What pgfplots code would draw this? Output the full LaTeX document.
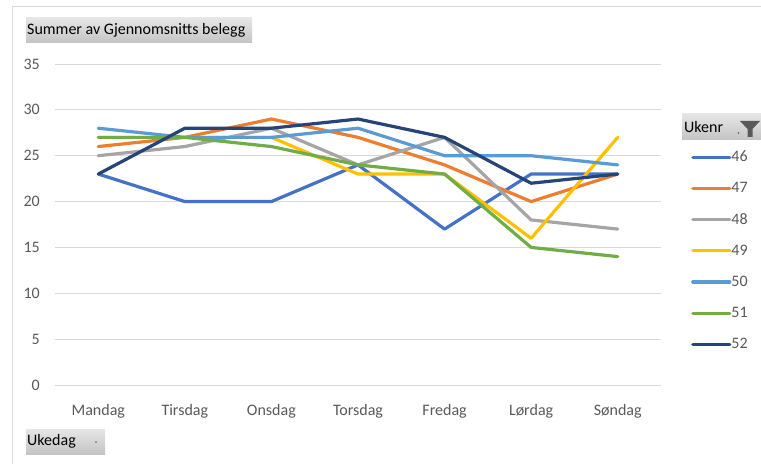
\documentclass[border=0pt]{standalone}
\usepackage{fontspec}
\setmainfont{Carlito}
\usepackage{pgfplots}
\pgfplotsset{compat=1.18}

\definecolor{c46}{HTML}{4472C4}
\definecolor{c47}{HTML}{ED7D31}
\definecolor{c48}{HTML}{A5A5A5}
\definecolor{c49}{HTML}{FFC000}
\definecolor{c50}{HTML}{5B9BD5}
\definecolor{c51}{HTML}{70AD47}
\definecolor{c52}{HTML}{264478}
\definecolor{gridc}{HTML}{D9D9D9}
\definecolor{txt}{HTML}{595959}
\definecolor{btntop}{HTML}{E6E6E6}
\definecolor{btnbot}{HTML}{C4C4C4}

\begin{document}
\begin{tikzpicture}[x=1pt,y=1pt,font=\fontsize{16}{19}\selectfont]
\path[use as bounding box] (0,0) rectangle (761,464);
% frame of the chart area
\draw[gridc,line width=1pt] (12.5,0) -- (12.5,457.5) -- (761,457.5);

% field buttons
\shade[top color=btntop,bottom color=btnbot] (26,421) rectangle (252,446);
\node[anchor=west,inner sep=0pt] at (27,433.5) {Summer av Gjennomsnitts belegg};
\shade[top color=btntop,bottom color=btnbot] (26,10) rectangle (105,35);
\node[anchor=west,inner sep=0pt] at (27,22.5) {Ukedag};
\fill[txt] (96,22) circle (0.8);
\shade[top color=btntop,bottom color=btnbot] (682,324) rectangle (761,350);
\node[anchor=west,inner sep=0pt] at (684,337) {Ukenr};
\fill[txt] (738.5,331) circle (0.8);
\fill[txt] (740,343) -- (760,343) -- (752.5,335) -- (752.5,327) -- (747.5,327) -- (747.5,335) -- cycle;

\begin{axis}[
  at={(55pt,79pt)}, anchor=south west,
  scale only axis, width=606pt, height=321pt,
  xmin=-0.5, xmax=6.5, ymin=0, ymax=35,
  xtick={0,...,6},
  xticklabels={Mandag,Tirsdag,Onsdag,Torsdag,Fredag,Lørdag,Søndag},
  ytick={0,5,...,35},
  /pgf/number format/assume math mode=true,
  axis line style={draw=none},
  major tick length=0pt,
  ymajorgrids, grid style={gridc,line width=1pt},
  tick label style={font=\fontsize{16}{19}\selectfont, text=txt, inner sep=0pt},
  xticklabel style={anchor=base, yshift=-30pt},
  yticklabel style={anchor=east, xshift=-15pt},
  clip=false,
  every axis plot/.append style={line width=3.2pt, line join=round, line cap=round},
  legend style={draw=none, fill=none, at={(1.0446,0.765)}, anchor=north west,
    font=\fontsize{16}{19}\selectfont, text=txt, row sep=0pt, column sep=0pt,
    legend cell align=left,
    nodes={inner sep=0pt, minimum height=31.2pt}},
  legend image code/.code={\draw[#1] (0pt,0pt) -- (37pt,0pt);},
]
\addplot[c46] coordinates {(0,23) (1,20) (2,20) (3,24) (4,17) (5,23) (6,23)};
\addplot[c47] coordinates {(0,26) (1,27) (2,29) (3,27) (4,24) (5,20) (6,23)};
\addplot[c48] coordinates {(0,25) (1,26) (2,28) (3,24) (4,27) (5,18) (6,17)};
\addplot[c49] coordinates {(0,27) (1,27) (2,27) (3,23) (4,23) (5,16) (6,27)};
\addplot[c50] coordinates {(0,28) (1,27) (2,27) (3,28) (4,25) (5,25) (6,24)};
\addplot[c51] coordinates {(0,27) (1,27) (2,26) (3,24) (4,23) (5,15) (6,14)};
\addplot[c52] coordinates {(0,23) (1,28) (2,28) (3,29) (4,27) (5,22) (6,23)};
\legend{46,47,48,49,50,51,52}
\end{axis}
\end{tikzpicture}
\end{document}
